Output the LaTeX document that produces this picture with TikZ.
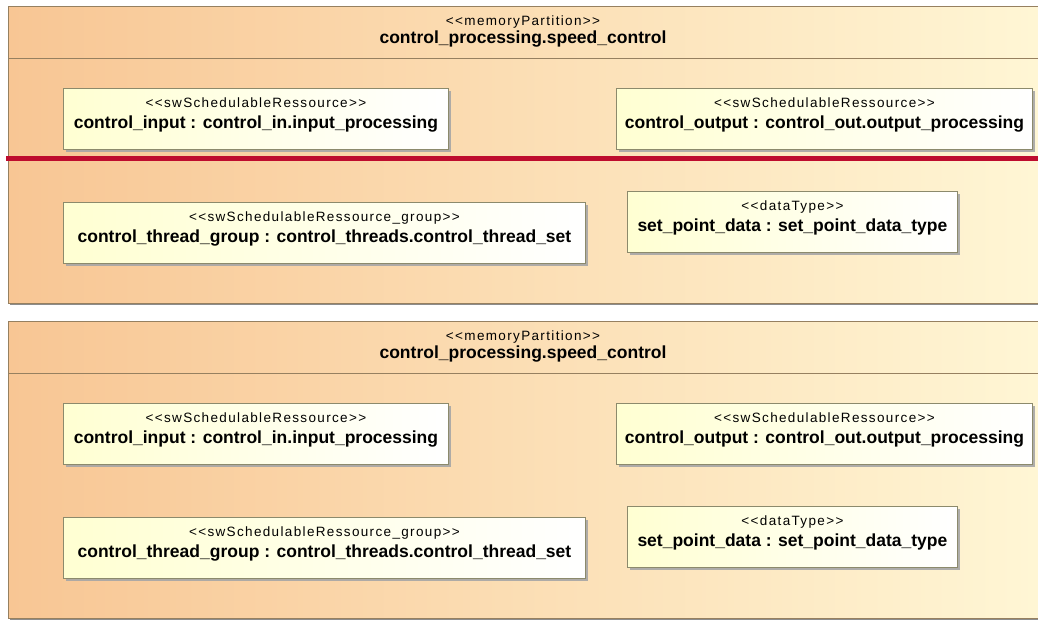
\documentclass[tikz,border=0pt]{standalone}
\usepackage{fontspec}
\setmainfont{Liberation Sans}
\newfontfamily\stereofont[LetterSpace=10]{Liberation Sans}
\usetikzlibrary{positioning, shadows}
\definecolor{partorange}{RGB}{248,198,148}
\definecolor{partyellow}{RGB}{255,247,214}
\definecolor{partline}{RGB}{150,128,96}
\definecolor{boxyellow}{RGB}{255,255,210}
\definecolor{boxline}{RGB}{140,138,108}
\definecolor{markred}{RGB}{190,12,46}

\tikzset{
  partition/.style={draw=partline, line width=0.9pt, left color=partorange, right color=partyellow,
    drop shadow={shadow xshift=1.5pt, shadow yshift=-2pt, fill=black!45, opacity=1}},
  umlbox/.style={draw=boxline, line width=0.9pt, left color=boxyellow, right color=white,
    rectangle, inner sep=0pt, anchor=north west,
    drop shadow={shadow xshift=2.5pt, shadow yshift=-2.5pt, fill=black!35, opacity=0.9}},
  stereo/.style={font=\stereofont\fontsize{13.5}{16}\selectfont, inner sep=0pt, anchor=base},
  title/.style={font=\bfseries\fontsize{17.5}{20}\selectfont, inner sep=0pt, anchor=base}
}

\begin{document}
\begin{tikzpicture}[x=1pt, y=-1pt]
  \clip (0,0) rectangle (1038,629);
  \fill[white] (0,0) rectangle (1038,629);

  % two copies of the memory partition
  \foreach \dy/\p in {0/a, 315/b} {
    \path[partition] (8,6+\dy) rectangle (1060,303+\dy);
    \draw[partline, line width=0.9pt] (8,58+\dy) -- (1060,58+\dy);
    \node[stereo] (mp-\p) at (523,25+\dy) {<<memoryPartition>>};
    \node[title] (sc-\p) at (523,43.5+\dy) {control\_processing.speed\_control};

    % parts inside the partition
    \foreach \n/\x/\y/\w/\s/\t in {
      in/63/88/385/swSchedulableRessource/control\_input : control\_in.input\_processing,
      out/616/88/416/swSchedulableRessource/control\_output : control\_out.output\_processing,
      grp/63/202/522/swSchedulableRessource\_group/control\_thread\_group : control\_threads.control\_thread\_set,
      dat/627/191/330/dataType/set\_point\_data : set\_point\_data\_type
    } {
      \node[umlbox, minimum width=\w pt, minimum height=61pt] (\n-\p) at (\x,\y+\dy) {};
      \node[stereo] (\n-\p-st) at ([yshift=-19pt]\n-\p.north) {<<\s>>};
      \node[title] (\n-\p-nm) at ([yshift=-40pt]\n-\p.north) {\t};
    }
  }

  % red marker line
  \draw[markred, line width=5pt] (6,158) -- (1040,158);
\end{tikzpicture}
\end{document}
